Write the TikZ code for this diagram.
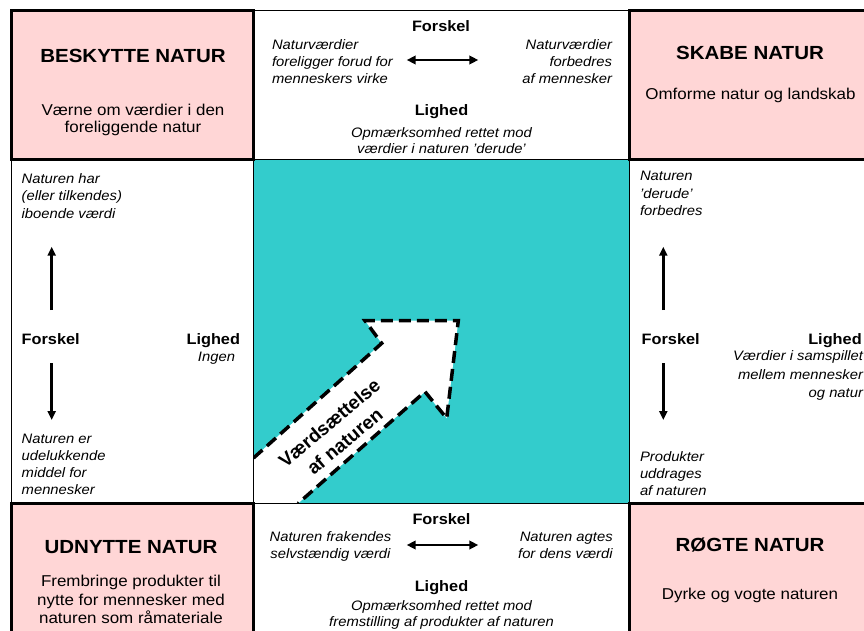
\documentclass[tikz,border=0pt]{standalone}
\usepackage{fontspec}
\setmainfont{Liberation Sans}
\usepackage{graphicx}
\usetikzlibrary{arrows.meta}
\definecolor{pinkfill}{RGB}{255,214,214}
\definecolor{tealfill}{RGB}{51,204,204}
\newcommand\sx[1]{\scalebox{1.08}[1]{#1}}
\newcommand\tb[2]{\sx{\begin{tabular}[t]{@{}#1@{}}#2\end{tabular}}}
\newcommand\ftitle{\bfseries\fontsize{19}{22}\selectfont}
\newcommand\fsubt[1]{\fontsize{15.7}{#1}\selectfont}
\newcommand\flab{\bfseries\fontsize{15.1}{18}\selectfont}
\newcommand\fital[1]{\itshape\fontsize{13.7}{#1}\selectfont}
\tikzset{
  pinkbox/.style={draw, line width=3pt, fill=pinkfill, inner sep=0pt, outer sep=0pt, anchor=north west},
  whitebox/.style={draw, line width=1pt, fill=white, inner sep=0pt, outer sep=0pt, anchor=north west},
  tealbox/.style={line width=1pt, fill=tealfill, inner sep=0pt, outer sep=0pt, anchor=north west},
  txt/.style={inner sep=0pt, outer sep=0pt},
  arr/.style={line width=2.6pt, -{Triangle[length=9pt,width=8pt]}},
  darr/.style={line width=2.6pt, {Triangle[length=9pt,width=8.5pt]}-{Triangle[length=9pt,width=8.5pt]}},
  valarrow/.style={line width=3.5pt, dash pattern=on 12pt off 6pt},
}
\begin{document}
\begin{tikzpicture}[x=1pt,y=-1pt]
\useasboundingbox (0,0) rectangle (864,631);
\clip (0,0) rectangle (864,631);
% white and teal boxes
\node[whitebox, minimum width=375.5pt, minimum height=149pt] (tm) at (253.5,11) {};
\node[whitebox, minimum width=242.5pt, minimum height=343.5pt] (ml) at (11,160) {};
\node[tealbox, minimum width=375.5pt, minimum height=343.5pt] (mc) at (253.5,160) {};
\node[whitebox, minimum width=271pt, minimum height=343.5pt] (mr) at (629,160) {};
\node[whitebox, minimum width=375.5pt, minimum height=160pt] (bm) at (253.5,503.5) {};
% value arrow
\begin{scope}
  \clip (mc.north west) rectangle (mc.south east);
  \coordinate (p1) at (253.5,458);
  \coordinate (p2) at (381.7,343.3);
  \coordinate (p3) at (365,320.7);
  \coordinate (p4) at (458.3,320.7);
  \coordinate (p5) at (446.7,418.3);
  \coordinate (p6) at (425,391.7);
  \coordinate (p7) at (298,503.5);
  \fill[white] (p1) -- (p2) -- (p3) -- (p4) -- (p5) -- (p6) -- (p7) -- (mc.south west) -- cycle;
  \draw[valarrow] (p1) -- (p2) -- (p3) -- (p4) -- (p5) -- (p6) -- (p7);
\end{scope}
\draw[line width=1pt] (mc.north west) rectangle (mc.south east);
\node[txt, rotate=40, align=center, font={\bfseries\fontsize{19}{24}\selectfont}] (vt) at (337,432) {Værdsættelse\\af naturen};
% pink boxes
\node[pinkbox, minimum width=242.5pt, minimum height=149pt] (tl) at (11,11) {};
\node[pinkbox, minimum width=271pt, minimum height=149pt] (tr) at (629,11) {};
\node[pinkbox, minimum width=242.5pt, minimum height=160pt] (bl) at (11,503.5) {};
\node[pinkbox, minimum width=271pt, minimum height=160pt] (br) at (629,503.5) {};
% top-left
\node[txt, anchor=base] (tlT) at (133,63) {\ftitle\sx{BESKYTTE NATUR}};
\node[txt, anchor=base] (tlS) at (133,115.7) {\fsubt{16.7}\tb{c}{Værne om værdier i den\\foreliggende natur}};
% top-middle
\node[txt, anchor=base] (tmF) at (441,32) {\flab\sx{Forskel}};
\node[txt, anchor=base west] (tmA) at (272,49.3) {\fital{17}\tb{l}{Naturværdier\\foreligger forud for\\menneskers virke}};
\node[txt, anchor=base east] (tmB) at (612,49.3) {\fital{17}\tb{r}{Naturværdier\\forbedres\\af mennesker}};
\coordinate (d1a) at (406.7,60);
\coordinate (d1b) at (478.3,60);
\draw[darr] (d1a) -- (d1b);
\node[txt, anchor=base] (tmL) at (441.5,115.7) {\flab\sx{Lighed}};
\node[txt, anchor=base] (tmO) at (441.5,137.3) {\fital{16.7}\tb{c}{Opmærksomhed rettet mod\\værdier i naturen 'derude'}};
% top-right
\node[txt, anchor=base] (trT) at (750,60) {\ftitle\sx{SKABE NATUR}};
\node[txt, anchor=base] (trS) at (750.5,100) {\fsubt{18}\sx{Omforme natur og landskab}};
% middle-left
\node[txt, anchor=base west] (mlA) at (21.7,183.3) {\fital{17.5}\tb{l}{Naturen har\\(eller tilkendes)\\iboende værdi}};
\coordinate (u1a) at (51.7,310);
\coordinate (u1b) at (51.7,246.7);
\draw[arr] (u1a) -- (u1b);
\node[txt, anchor=base west] (mlF) at (21.7,344.3) {\flab\sx{Forskel}};
\node[txt, anchor=base east] (mlL) at (240,344.3) {\flab\sx{Lighed}};
\node[txt, anchor=base] (mlI) at (216.5,361) {\fital{17}\sx{Ingen}};
\coordinate (d2a) at (51.7,363);
\coordinate (d2b) at (51.7,420);
\draw[arr] (d2a) -- (d2b);
\node[txt, anchor=base west] (mlB) at (21.7,443) {\fital{17.3}\tb{l}{Naturen er\\udelukkende\\middel for\\mennesker}};
% middle-right
\node[txt, anchor=base west] (mrA) at (640,181) {\fital{17.5}\tb{l}{Naturen\\'derude'\\forbedres}};
\coordinate (u3a) at (663.3,310);
\coordinate (u3b) at (663.3,246.7);
\draw[arr] (u3a) -- (u3b);
\node[txt, anchor=base west] (mrF) at (641.7,344.3) {\flab\sx{Forskel}};
\node[txt, anchor=base east] (mrL) at (861.7,344.3) {\flab\sx{Lighed}};
\node[txt, anchor=base east] (mrV) at (863,360.7) {\fital{18.3}\tb{r}{Værdier i samspillet\\mellem mennesker\\og natur}};
\coordinate (d4a) at (663.3,363);
\coordinate (d4b) at (663.3,420);
\draw[arr] (d4a) -- (d4b);
\node[txt, anchor=base west] (mrB) at (640,461.7) {\fital{16.8}\tb{l}{Produkter\\uddrages\\af naturen}};
% bottom-left
\node[txt, anchor=base] (blT) at (131,553.3) {\ftitle\sx{UDNYTTE NATUR}};
\node[txt, anchor=base] (blS) at (131,586.7) {\fsubt{18.3}\tb{c}{Frembringe produkter til\\nytte for mennesker med\\naturen som råmateriale}};
% bottom-middle
\node[txt, anchor=base] (bmF) at (441.5,524.3) {\flab\sx{Forskel}};
\node[txt, anchor=base] (bmA) at (330.5,541.7) {\fital{16.7}\tb{c}{Naturen frakendes\\selvstændig værdi}};
\node[txt, anchor=base east] (bmB) at (612.7,541.7) {\fital{16.7}\tb{r}{Naturen agtes\\for dens værdi}};
\coordinate (d5a) at (406.7,545);
\coordinate (d5b) at (478.3,545);
\draw[darr] (d5a) -- (d5b);
\node[txt, anchor=base] (bmL) at (441.5,591.7) {\flab\sx{Lighed}};
\node[txt, anchor=base] (bmO) at (441.5,610) {\fital{16.7}\tb{c}{Opmærksomhed rettet mod\\fremstilling af produkter af naturen}};
% bottom-right
\node[txt, anchor=base] (brT) at (750,551.7) {\ftitle\sx{RØGTE NATUR}};
\node[txt, anchor=base] (brS) at (750,599) {\fsubt{18}\sx{Dyrke og vogte naturen}};
\end{tikzpicture}
\end{document}
